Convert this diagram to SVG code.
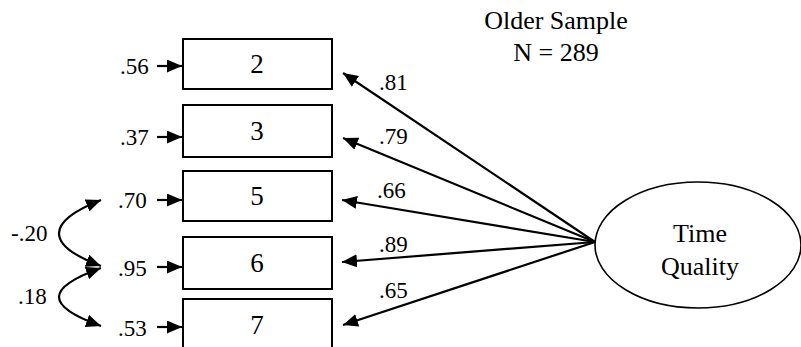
<svg xmlns="http://www.w3.org/2000/svg" width="801" height="347" viewBox="0 0 801 347">
<style>
text{font-family:"Liberation Serif","Times New Roman",serif;fill:#000}
.lbl{font-size:23px}
.num{font-size:27px;text-anchor:middle}
.big{font-size:26px;text-anchor:middle}
.box{fill:#fff;stroke:#000;stroke-width:2}
.ln{fill:none;stroke:#000;stroke-width:2.2}
</style>
<defs>
<marker id="ah" viewBox="0 0 15 13" refX="15" refY="6.5" markerWidth="15" markerHeight="13" markerUnits="userSpaceOnUse" orient="auto-start-reverse">
<path d="M0,0 L15,6.5 L0,13 Z" fill="#000"/>
</marker>
</defs>
<g id="title">
<text class="big" x="556" y="29">Older Sample</text>
<text class="big" x="556" y="61">N = 289</text>
</g>
<g id="node-2"><rect class="box" x="183" y="39" width="149" height="50"/><text class="num" x="257" y="73">2</text></g>
<g id="node-3"><rect class="box" x="183" y="105" width="149" height="52"/><text class="num" x="257" y="140">3</text></g>
<g id="node-5"><rect class="box" x="183" y="171" width="149" height="50"/><text class="num" x="257" y="205">5</text></g>
<g id="node-6"><rect class="box" x="183" y="237" width="149" height="52"/><text class="num" x="257" y="272">6</text></g>
<g id="node-7"><rect class="box" x="183" y="299" width="149" height="60"/><text class="num" x="257" y="334">7</text></g>
<g id="time-quality"><ellipse cx="698" cy="245" rx="103" ry="63" fill="#fff" stroke="#000" stroke-width="1.6"/><text class="big" x="700" y="242">Time</text><text class="big" x="700" y="275">Quality</text></g>
<g id="connectors">
<line class="ln" x1="157" y1="66" x2="182" y2="66" marker-end="url(#ah)"/>
<line class="ln" x1="157" y1="137" x2="182" y2="137" marker-end="url(#ah)"/>
<line class="ln" x1="157" y1="200" x2="182" y2="200" marker-end="url(#ah)"/>
<line class="ln" x1="157" y1="267" x2="182" y2="267" marker-end="url(#ah)"/>
<line class="ln" x1="157" y1="327" x2="182" y2="327" marker-end="url(#ah)"/>
<path class="ln" d="M101,200 C45,222 45,245 101,266" marker-start="url(#ah)" marker-end="url(#ah)"/>
<path class="ln" d="M101,268 C45,288 45,306 101,326" marker-start="url(#ah)" marker-end="url(#ah)"/>
<line class="ln" x1="595" y1="242" x2="343" y2="73" marker-end="url(#ah)"/>
<line class="ln" x1="595" y1="242" x2="343" y2="138" marker-end="url(#ah)"/>
<line class="ln" x1="595" y1="242" x2="342" y2="200" marker-end="url(#ah)"/>
<line class="ln" x1="595" y1="242" x2="342" y2="262" marker-end="url(#ah)"/>
<line class="ln" x1="595" y1="242" x2="343" y2="325" marker-end="url(#ah)"/>
</g>
<g id="labels">
<text class="lbl" x="120" y="74">.56</text>
<text class="lbl" x="120" y="145">.37</text>
<text class="lbl" x="118" y="208">.70</text>
<text class="lbl" x="118" y="276">.95</text>
<text class="lbl" x="118" y="336">.53</text>
<text class="lbl" x="11" y="241">-.20</text>
<text class="lbl" x="18" y="304">.18</text>
<text class="lbl" x="379" y="90">.81</text>
<text class="lbl" x="379" y="144">.79</text>
<text class="lbl" x="377" y="198">.66</text>
<text class="lbl" x="379" y="252">.89</text>
<text class="lbl" x="379" y="298">.65</text>
</g>
</svg>
